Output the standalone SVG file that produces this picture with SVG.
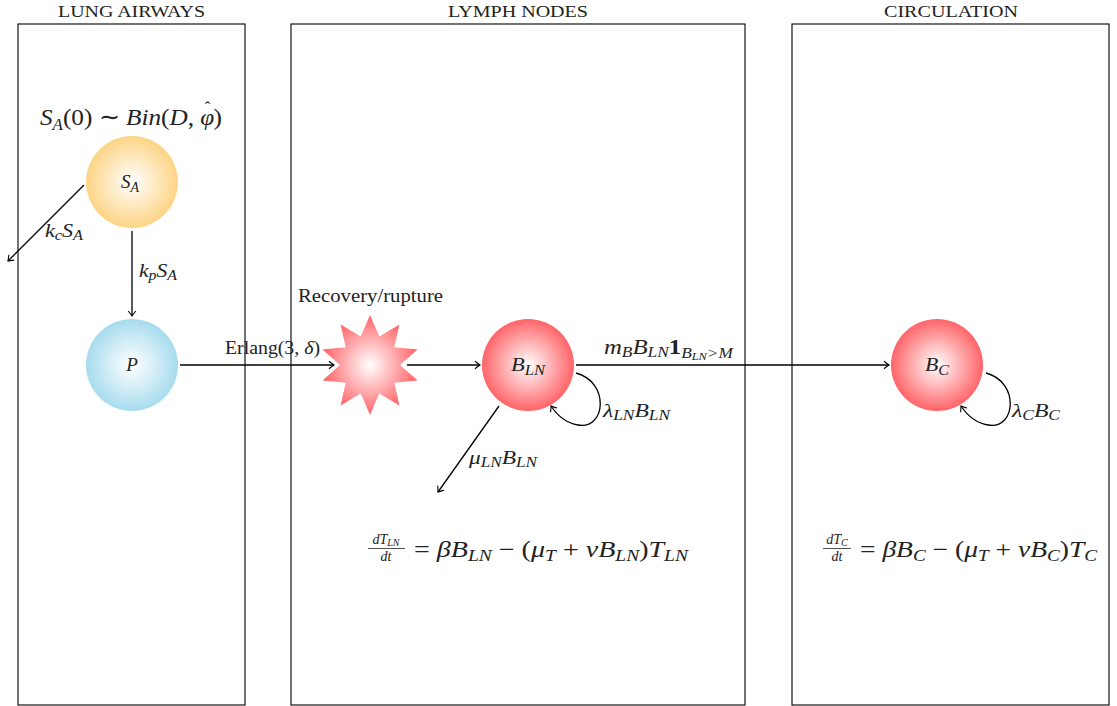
<svg xmlns="http://www.w3.org/2000/svg" width="1117" height="706" viewBox="0 0 1117 706">
<defs>
<radialGradient id="gY"><stop offset="0" stop-color="#ffffff"/><stop offset="1" stop-color="#fdd485"/></radialGradient>
<radialGradient id="gB"><stop offset="0" stop-color="#ffffff"/><stop offset="1" stop-color="#a7dcee"/></radialGradient>
<radialGradient id="gR"><stop offset="0" stop-color="#ffffff"/><stop offset="1" stop-color="#ff6468"/></radialGradient>
<marker id="ah" markerUnits="userSpaceOnUse" markerWidth="12" markerHeight="12" viewBox="-7 -6 8 12" refX="0" refY="0" orient="auto">
<path d="M-5,-3.8 Q-1.2,-0.8 0,0 Q-1.2,0.8 -5,3.8" fill="none" stroke="#000" stroke-width="1.1"/>
</marker>
<style>
.box{fill:none;stroke:#000;stroke-width:1.1}
.e{fill:none;stroke:#000;stroke-width:1.3;marker-end:url(#ah)}
</style>
</defs>

<g id="compartments">
<rect class="box" x="18" y="24" width="227" height="681"/>
<rect class="box" x="291" y="24" width="454" height="681"/>
<rect class="box" x="792" y="24" width="317" height="681"/>
<g font-family="Liberation Serif, Times New Roman, serif" font-size="17" fill="#222">
<text x="58" y="17" textLength="147" lengthAdjust="spacingAndGlyphs">LUNG AIRWAYS</text>
<text x="448" y="17" textLength="140" lengthAdjust="spacingAndGlyphs">LYMPH NODES</text>
<text x="884" y="17" textLength="134" lengthAdjust="spacingAndGlyphs">CIRCULATION</text>
</g>
</g>

<g id="init-label" font-family="Liberation Serif, Times New Roman, serif" fill="#222">
<text x="40" y="125" font-size="24" font-style="italic" textLength="182" lengthAdjust="spacingAndGlyphs">S<tspan font-size="16" dy="5">A</tspan><tspan font-style="normal" dy="-5">(0) ∼ </tspan>Bin<tspan font-style="normal">(</tspan>D<tspan font-style="normal">, </tspan>φ<tspan font-style="normal" font-size="16" dx="-9" dy="-12">ˆ</tspan><tspan font-style="normal" dx="3" dy="12">)</tspan></text>
</g>

<g id="node-SA">
<circle cx="132" cy="182" r="46" fill="url(#gY)"/>
<text x="121" y="188" font-size="19" font-style="italic" font-family="Liberation Serif, Times New Roman, serif" fill="#222">S<tspan font-size="14" dy="4">A</tspan></text>
</g>

<g id="node-P">
<circle cx="132" cy="365" r="46" fill="url(#gB)"/>
<text x="132" y="371" font-size="19" font-style="italic" font-family="Liberation Serif, Times New Roman, serif" fill="#222" text-anchor="middle">P</text>
</g>

<g id="node-star">
<polygon fill="url(#gR)" points="370,315 379.27,336.47 399.39,324.55 394.27,347.37 417.55,349.55 400,365 417.55,380.45 394.27,382.63 399.39,405.45 379.27,393.53 370,415 360.73,393.53 340.61,405.45 345.73,382.63 322.45,380.45 340,365 322.45,349.55 345.73,347.37 340.61,324.55 360.73,336.47"/>
<text x="298" y="302" font-size="18" font-family="Liberation Serif, Times New Roman, serif" fill="#222" textLength="145" lengthAdjust="spacingAndGlyphs">Recovery/rupture</text>
</g>

<g id="node-BLN">
<circle cx="528" cy="365" r="46" fill="url(#gR)"/>
<text x="511" y="371" font-size="19" font-style="italic" font-family="Liberation Serif, Times New Roman, serif" fill="#222" textLength="34" lengthAdjust="spacingAndGlyphs">B<tspan font-size="14" dy="4">LN</tspan></text>
</g>

<g id="node-BC">
<circle cx="937" cy="365" r="46" fill="url(#gR)"/>
<text x="925" y="371" font-size="19" font-style="italic" font-family="Liberation Serif, Times New Roman, serif" fill="#222" textLength="24" lengthAdjust="spacingAndGlyphs">B<tspan font-size="14" dy="4">C</tspan></text>
</g>

<g id="connectors">
<path class="e" d="M84,185 L8,261"/>
<path class="e" d="M132,231 L132,316"/>
<path class="e" d="M180,365 L334,365"/>
<path class="e" d="M407,365 L480,365"/>
<path class="e" d="M576,365 L889,365"/>
<path class="e" d="M576,373 C610,382 606,430 578,425 C566,423 557,415 551,406"/>
<path class="e" d="M499,406 L438,492"/>
<path class="e" d="M986,373 C1020,382 1016,430 988,425 C976,423 967,415 961,406"/>
</g>

<g id="edge-labels" font-family="Liberation Serif, Times New Roman, serif" fill="#222" font-size="19" font-style="italic">
<text x="45" y="237" textLength="38" lengthAdjust="spacingAndGlyphs">k<tspan font-size="14" dy="3">c</tspan><tspan dy="-3">S</tspan><tspan font-size="14" dy="3">A</tspan></text>
<text x="139" y="277" textLength="38" lengthAdjust="spacingAndGlyphs">k<tspan font-size="14" dy="3">p</tspan><tspan dy="-3">S</tspan><tspan font-size="14" dy="3">A</tspan></text>
<text x="225" y="354" font-size="18" font-style="normal" textLength="95" lengthAdjust="spacingAndGlyphs">Erlang(3, <tspan font-style="italic">δ</tspan>)</text>
<text x="604" y="354" font-size="20" textLength="129" lengthAdjust="spacingAndGlyphs">m<tspan font-size="14" dy="3">B</tspan><tspan dy="-3">B</tspan><tspan font-size="14" dy="3">LN</tspan><tspan dy="-3" font-style="normal" font-weight="bold">1</tspan><tspan font-size="14" dy="4">B</tspan><tspan font-size="10" dy="2">LN</tspan><tspan font-size="14" dy="-2">&gt;M</tspan></text>
<text x="603" y="417" textLength="67" lengthAdjust="spacingAndGlyphs">λ<tspan font-size="14" dy="3">LN</tspan><tspan dy="-3">B</tspan><tspan font-size="14" dy="3">LN</tspan></text>
<text x="469" y="464" textLength="68" lengthAdjust="spacingAndGlyphs">μ<tspan font-size="14" dy="3">LN</tspan><tspan dy="-3">B</tspan><tspan font-size="14" dy="3">LN</tspan></text>
<text x="1012" y="417" textLength="48" lengthAdjust="spacingAndGlyphs">λ<tspan font-size="14" dy="3">C</tspan><tspan dy="-3">B</tspan><tspan font-size="14" dy="3">C</tspan></text>
</g>

<g id="eq-LN" font-family="Liberation Serif, Times New Roman, serif" fill="#222" font-style="italic">
<text x="386" y="544" font-size="14" text-anchor="middle">dT<tspan font-size="10" dy="2">LN</tspan></text>
<line x1="368" y1="548.5" x2="405" y2="548.5" stroke="#222" stroke-width="0.8"/>
<text x="386" y="561" font-size="14" text-anchor="middle">dt</text>
<text x="414" y="557" font-size="23" textLength="274" lengthAdjust="spacingAndGlyphs"><tspan font-style="normal">= </tspan>βB<tspan font-size="16" dy="4">LN</tspan><tspan font-style="normal" dy="-4"> − (</tspan>μ<tspan font-size="16" dy="4">T</tspan><tspan font-style="normal" dy="-4"> + </tspan>νB<tspan font-size="16" dy="4">LN</tspan><tspan font-style="normal" dy="-4">)</tspan>T<tspan font-size="16" dy="4">LN</tspan></text>
</g>

<g id="eq-C" font-family="Liberation Serif, Times New Roman, serif" fill="#222" font-style="italic">
<text x="837" y="544" font-size="14" text-anchor="middle">dT<tspan font-size="10" dy="2">C</tspan></text>
<line x1="823" y1="548.5" x2="851" y2="548.5" stroke="#222" stroke-width="0.8"/>
<text x="837" y="561" font-size="14" text-anchor="middle">dt</text>
<text x="860" y="557" font-size="23" textLength="237" lengthAdjust="spacingAndGlyphs"><tspan font-style="normal">= </tspan>βB<tspan font-size="16" dy="4">C</tspan><tspan font-style="normal" dy="-4"> − (</tspan>μ<tspan font-size="16" dy="4">T</tspan><tspan font-style="normal" dy="-4"> + </tspan>νB<tspan font-size="16" dy="4">C</tspan><tspan font-style="normal" dy="-4">)</tspan>T<tspan font-size="16" dy="4">C</tspan></text>
</g>
</svg>
